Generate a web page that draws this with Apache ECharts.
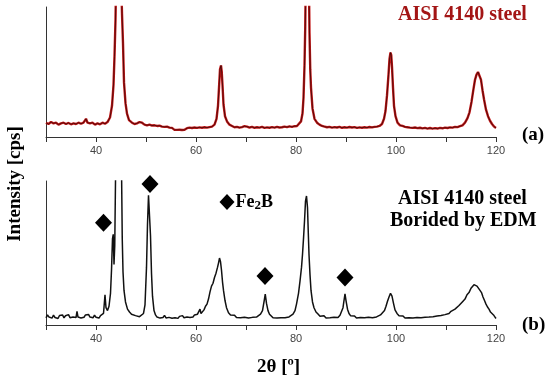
<!DOCTYPE html>
<html>
<head>
<meta charset="utf-8">
<script src="https://cdn.jsdelivr.net/npm/echarts@6/dist/echarts.min.js"></script>
<style>
  html, body { margin: 0; padding: 0; background: #fff; }
  #main { width: 545px; height: 384px; }
</style>
</head>
<body>
<div id="main"></div>
<script>
var chartDom = document.getElementById('main');
var myChart = echarts.init(chartDom);
var option;

// 2θ range and tick labels
const xMin = 30, xMax = 120, xStep = 10;
const tickLabels = [40, 60, 80, 100, 120];

// (a) AISI 4140 steel, [2θ, intensity] (arbitrary units, peaks at 44.5 and 82.3 go off scale)
const steelData = [
  [30,11],[30.5,10],[31,11.5],[31.5,10.5],[32,11],[32.5,9.5],[33,10.5],[33.5,11],[34,10],[34.5,10.8],
  [35,9.8],[35.5,10.5],[36,10],[36.5,11],[37,10.2],[37.5,11],[38,14],[38.3,11],[38.8,10.5],[39.3,11],
  [39.8,9.5],[40.3,10.5],[40.8,9.8],[41.3,11],[41.8,10.2],[42.3,11.5],[42.8,15],[43.2,24],[43.5,40],[43.7,62],
  [43.9,90],[44.1,140],[44.5,170],[44.9,140],[45.2,95],[45.4,72],[45.6,42],[45.9,26],[46.2,18],[46.6,13],
  [47.2,11],[47.7,10],[48.2,10.5],[48.7,11.5],[49.2,11],[49.7,9.5],[50.2,9],[50.7,9.5],[51.2,8.8],[51.7,9],
  [52.2,8.5],[52.7,8.7],[53.2,8],[53.7,7.8],[54.2,8],[54.7,7.2],[55.2,7],[55.7,5.5],[56.2,5.5],[56.7,5.6],
  [57.2,5.4],[57.7,5.5],[58.2,6.8],[58.7,7.2],[59.2,6.9],[59.7,7.3],[60.2,7],[60.7,7.4],[61.2,7.1],[61.7,7.5],
  [62.2,7.2],[62.7,7.6],[63.2,8],[63.7,9.5],[64.1,14],[64.4,24],[64.6,38],[64.8,52],[65,55],[65.15,50],
  [65.3,40],[65.5,25],[65.8,16],[66.2,12],[66.7,9.5],[67.2,8.5],[67.7,7.5],[68.2,7.8],[68.7,7.2],[69.2,7.6],
  [69.7,8.3],[70.2,8],[70.7,7.3],[71.2,7.8],[71.7,7.1],[72.2,7.5],[72.7,7.2],[73.2,7.8],[73.7,7],[74.2,7.4],
  [74.7,7.1],[75.2,7.6],[75.7,7.2],[76.2,7.8],[76.7,7.3],[77.2,7.5],[77.7,8],[78.2,7.6],[78.7,8.2],[79.2,7.8],
  [79.7,8.3],[80.2,8.5],[80.6,9.5],[81,12],[81.3,18],[81.5,30],[81.7,55],[81.85,85],[82,140],[82.3,170],
  [82.55,130],[82.7,80],[82.85,52],[83,38],[83.3,22],[83.7,14],[84.2,11],[84.7,9.5],[85.2,8.5],[85.7,8],
  [86.2,7.5],[86.7,7.8],[87.2,7.2],[87.7,7.6],[88.2,7.3],[88.7,7.8],[89.2,7.1],[89.7,7.5],[90.2,7.2],[90.7,7.7],
  [91.2,7.3],[91.7,7.6],[92.2,7],[92.7,7.4],[93.2,7.1],[93.7,7.5],[94.2,7.2],[94.7,7.7],[95.2,7.4],[95.7,7.8],
  [96.2,8],[96.7,8.5],[97.2,10],[97.6,14],[97.9,20],[98.2,32],[98.5,48],[98.7,60],[98.9,65],[99.05,63],
  [99.2,54],[99.4,38],[99.6,24],[99.9,16],[100.3,11],[100.8,9],[101.3,8.5],[101.8,7.8],[102.3,7.5],[102.8,7.2],
  [103.3,7],[103.8,7.3],[104.3,6.8],[104.8,7.1],[105.3,6.6],[105.8,7],[106.3,6.5],[106.8,6.9],[107.3,6.4],[107.8,6.8],
  [108.3,6.5],[108.8,7],[109.3,6.7],[109.8,7.2],[110.3,6.9],[110.8,7.4],[111.3,7.2],[111.8,7.8],[112.3,7.6],[112.8,8.3],
  [113.3,9],[113.8,11],[114.3,14.5],[114.7,19],[115.1,27],[115.5,37],[115.8,44],[116.1,48],[116.4,50],[116.7,49],
  [117,44],[117.3,36],[117.6,29],[118,21],[118.4,16],[118.8,12.5],[119.2,10],[119.6,8],[120,7]
];

// (b) AISI 4140 steel borided by EDM
const boridedData = [
  [30,5],[30.3,7],[30.6,5.5],[30.9,6.5],[31.2,4.8],[31.5,6.8],[31.8,5.2],[32.1,6.2],[32.4,4.5],[32.7,6.6],
  [33,5.3],[33.3,7],[33.6,5],[33.9,6.4],[34.2,5.6],[34.5,7.2],[34.8,5.1],[35.1,6.3],[35.4,5.5],[35.7,6.8],
  [36,5.2],[36.2,9.5],[36.4,5.5],[36.7,6.6],[37,4.9],[37.3,6.2],[37.6,5.4],[37.9,7],[38.2,5.8],[38.5,7.3],
  [38.8,5.5],[39.1,6.4],[39.4,5],[39.7,6.8],[40,5.4],[40.3,6.2],[40.6,4.8],[40.9,6.5],[41.2,6],[41.5,8],
  [41.8,21],[42,12],[42.3,10],[42.6,13],[42.9,22],[43.1,38],[43.3,60],[43.45,63],[43.6,42],[43.75,55],
  [43.9,100],[44.1,150],[44.5,170],[44.9,150],[45.1,110],[45.25,60],[45.4,37],[45.6,24],[45.9,16],[46.3,11],
  [46.7,9],[47.1,7.5],[47.5,8.5],[47.9,6.5],[48.3,7.2],[48.7,5.8],[49.1,6.8],[49.5,8],[49.8,14],[50.1,40],
  [50.3,70],[50.5,90],[50.7,91],[50.9,62],[51.1,36],[51.3,20],[51.6,10],[51.9,7],[52.2,5.5],[52.5,6.5],
  [52.8,4.8],[53.1,6],[53.4,5.2],[53.7,6.7],[54,4.9],[54.3,6.1],[54.6,5.3],[54.9,6.6],[55.2,4.7],[55.5,5.9],
  [55.8,5.1],[56.1,6.4],[56.4,4.6],[56.7,6],[57,5.3],[57.3,6.5],[57.6,5],[57.9,6.2],[58.2,5.5],[58.5,6.8],
  [58.8,5.2],[59.1,6.3],[59.4,5.6],[59.7,7],[60,6],[60.3,7.5],[60.6,8.5],[60.8,11],[61,8],[61.3,9],
  [61.6,10.5],[61.9,13],[62.2,14.5],[62.5,18],[62.8,23],[63.1,27],[63.4,29],[63.7,33],[64,36],[64.3,40],
  [64.5,43],[64.7,46.5],[64.9,44],[65.1,38],[65.3,30],[65.5,24],[65.8,17],[66.1,12],[66.5,8.5],[66.9,7],
  [67.3,6],[67.7,6.8],[68.1,5.2],[68.5,6.4],[68.9,5],[69.3,6.2],[69.7,5.4],[70.1,6.6],[70.5,4.9],[70.9,6],
  [71.3,5.3],[71.7,6.4],[72.1,5.5],[72.5,6.8],[72.9,7.5],[73.3,10],[73.6,16],[73.85,21.5],[74.1,15],[74.4,10],
  [74.7,7.5],[75,6.5],[75.4,5],[75.8,6.2],[76.2,4.8],[76.6,5.9],[77,5.1],[77.4,6.3],[77.8,5],[78.2,6.2],
  [78.6,5.6],[79,6.8],[79.4,7.5],[79.8,10],[80.1,14.5],[80.5,22],[80.8,30.5],[81.1,40],[81.3,49],[81.5,60],
  [81.7,72],[81.9,86],[82.1,89.6],[82.3,81.5],[82.45,65],[82.6,49],[82.8,35],[83,24],[83.3,16],[83.6,12],
  [84,9],[84.4,7.6],[84.8,6],[85.2,5.2],[85.6,6.4],[86,4.9],[86.4,6],[86.8,5.1],[87.2,6.3],[87.6,5.4],
  [88,6.5],[88.4,5.2],[88.8,6.8],[89.1,8],[89.4,12],[89.6,17],[89.8,21.7],[90,17],[90.3,11],[90.6,8],
  [90.9,6.5],[91.3,5.5],[91.7,6.3],[92.1,4.8],[92.5,5.9],[92.9,5.2],[93.3,6.4],[93.7,5],[94.1,6],[94.5,5.4],
  [94.9,6.5],[95.3,5.1],[95.7,6.2],[96.1,5.6],[96.5,6.6],[96.9,7],[97.3,8],[97.7,10],[98,13],[98.3,16.5],
  [98.6,19.5],[98.9,22],[99.2,20],[99.5,15],[99.8,10.5],[100.2,8],[100.6,6.5],[101,5.5],[101.4,6.3],[101.8,4.9],
  [102.2,5.8],[102.6,5.1],[103,6.2],[103.4,4.8],[103.8,5.9],[104.2,5.2],[104.6,6.4],[105,5],[105.4,6.1],[105.8,5.3],
  [106.2,6.5],[106.6,5.5],[107,6.6],[107.4,5.8],[107.8,7],[108.2,6.2],[108.6,7.3],[109,6.6],[109.4,7.8],[109.8,7.2],
  [110.2,8.4],[110.6,8],[111,9.5],[111.4,9],[111.8,11],[112.2,11.5],[112.6,13.5],[113,14],[113.4,16.5],[113.8,18],
  [114.2,21],[114.6,22.5],[115,25.5],[115.3,26],[115.6,28],[115.9,28.5],[116.2,27],[116.5,27.5],[116.8,24],[117.1,22.5],
  [117.4,19.5],[117.7,17],[118,14.5],[118.3,12.5],[118.6,11],[118.9,9],[119.2,8.5],[119.5,7],[119.8,5.5],[120,4.5]
];

// Fe2B peak markers (diamonds) and legend marker
const fe2bMarks = [[41.5, 71], [50.8, 98], [73.8, 34], [89.8, 33]];
const fe2bLegend = [[66.2, 85.5]];

const serif = '"Liberation Serif", "Times New Roman", serif';

function xAxisFor(gridIndex) {
  return {
    type: 'value',
    gridIndex: gridIndex,
    min: xMin,
    max: xMax,
    interval: xStep,
    axisLine: { show: true, lineStyle: { color: '#333', width: 1 } },
    axisTick: { show: true, length: 5, lineStyle: { color: '#333' } },
    axisLabel: {
      color: '#444',
      fontFamily: 'Liberation Sans, Arial, sans-serif',
      fontSize: 11,
      margin: 8,
      formatter: function (v) {
        return tickLabels.indexOf(v) >= 0 ? String(v) : '';
      }
    },
    splitLine: { show: false }
  };
}

function yAxisFor(gridIndex) {
  return {
    type: 'value',
    gridIndex: gridIndex,
    min: 0,
    max: 100,
    axisLine: { show: true, lineStyle: { color: '#333', width: 1 } },
    axisTick: { show: false },
    axisLabel: { show: false },
    splitLine: { show: false }
  };
}

option = {
  backgroundColor: '#fff',
  animation: false,
  grid: [
    { left: 46, right: 49, top: 7, height: 130 },
    { left: 46, right: 49, top: 181, height: 144 }
  ],
  xAxis: [xAxisFor(0), xAxisFor(1)],
  yAxis: [yAxisFor(0), yAxisFor(1)],
  series: [
    {
      type: 'line',
      xAxisIndex: 0,
      yAxisIndex: 0,
      data: steelData,
      showSymbol: false,
      lineStyle: { color: '#c41a1a', width: 2.4 }
    },
    {
      type: 'line',
      xAxisIndex: 0,
      yAxisIndex: 0,
      data: steelData,
      showSymbol: false,
      lineStyle: { color: '#200000', width: 0.8, opacity: 0.85 }
    },
    {
      type: 'line',
      xAxisIndex: 1,
      yAxisIndex: 1,
      data: boridedData,
      showSymbol: false,
      lineStyle: { color: '#111', width: 1.5 }
    },
    {
      type: 'scatter',
      xAxisIndex: 1,
      yAxisIndex: 1,
      data: fe2bMarks,
      symbol: 'diamond',
      symbolSize: [17, 18],
      itemStyle: { color: '#000', opacity: 1 }
    },
    {
      type: 'scatter',
      xAxisIndex: 1,
      yAxisIndex: 1,
      data: fe2bLegend,
      symbol: 'diamond',
      symbolSize: [15, 16],
      itemStyle: { color: '#000', opacity: 1 },
      label: {
        show: true,
        position: 'right',
        distance: 1,
        formatter: '{a|Fe}{s|2}{a|B}',
        rich: {
          a: { fontFamily: serif, fontWeight: 'bold', fontSize: 18, color: '#000' },
          s: { fontFamily: serif, fontWeight: 'bold', fontSize: 13, color: '#000', padding: [8, 0, 0, 0] }
        }
      }
    }
  ],
  graphic: [
    {
      type: 'text', left: 398, top: 5,
      style: { text: 'AISI 4140 steel', fill: '#a31515', font: 'bold 20px ' + serif }
    },
    {
      type: 'text', left: 522, top: 126,
      style: { text: '(a)', fill: '#000', font: 'bold 19px ' + serif }
    },
    {
      type: 'text', left: 398, top: 189,
      style: { text: 'AISI 4140 steel', fill: '#000', font: 'bold 20px ' + serif }
    },
    {
      type: 'text', left: 390, top: 211,
      style: { text: 'Borided by EDM', fill: '#000', font: 'bold 20px ' + serif }
    },
    {
      type: 'text', left: 522, top: 316,
      style: { text: '(b)', fill: '#000', font: 'bold 19px ' + serif }
    },
    {
      type: 'text', left: 257, top: 358,
      style: { text: '2θ [º]', fill: '#000', font: 'bold 19px ' + serif }
    },
    {
      type: 'text', x: 15, y: 184, rotation: Math.PI / 2,
      style: { text: 'Intensity [cps]', fill: '#000', font: 'bold 19px ' + serif, align: 'center', verticalAlign: 'middle' }
    }
  ]
};

option && myChart.setOption(option);
</script>
</body>
</html>
